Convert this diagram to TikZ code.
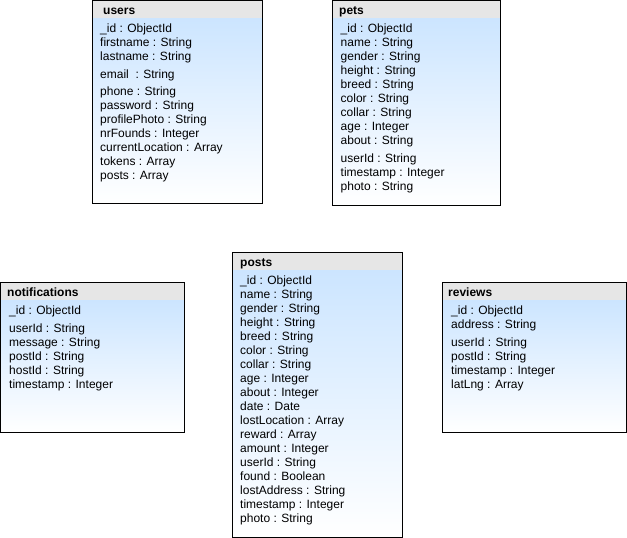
\documentclass[tikz,border=0pt]{standalone}
\usepackage{fontspec}
\setmainfont{Liberation Sans}
\definecolor{hdrgray}{RGB}{230,230,230}
\definecolor{bodyblue}{RGB}{204,229,255}
\begin{document}
\begin{tikzpicture}[x=1pt,y=-1pt,
  tblbox/.style={draw=black,line width=1pt,fill=none,inner sep=0pt,outer sep=0pt,anchor=north west},
  hdrfill/.style={fill=hdrgray},
  bodyshade/.style={top color=bodyblue,bottom color=white},
  ttl/.style={font=\fontsize{12}{14}\selectfont\bfseries,anchor=base west,inner sep=0pt},
  row/.style={font=\fontsize{12}{14}\selectfont,anchor=base west,inner sep=0pt}]
\useasboundingbox (0,0) rectangle (627,538);

% ---------- users
\path[bodyshade] (92.5,18) rectangle (262.5,203.5);
\path[hdrfill] (92.5,0.5) rectangle (262.5,18);
\node[tblbox,minimum width=170pt,minimum height=203pt] (users) at (92.5,0.5) {};
\node[ttl] (usersT) at (103,14.5) {users};
\foreach \y/\t [count=\i] in {32.5/{\_id : ObjectId},46.5/{firstname : String},60.5/{lastname : String},78.5/{email~ : String},95.5/{phone : String},109.5/{password : String},123.5/{profilePhoto : String},137.5/{nrFounds : Integer},151.5/{currentLocation : Array},165.5/{tokens : Array},179.5/{posts : Array}}
  \node[row] (users r\i) at (100,\y) {\t};

% ---------- pets
\path[bodyshade] (332.5,18) rectangle (500.5,205);
\path[hdrfill] (332.5,0.5) rectangle (500.5,18);
\node[tblbox,minimum width=168pt,minimum height=204.5pt] (pets) at (332.5,0.5) {};
\node[ttl] (petsT) at (339,14.5) {pets};
\foreach \y/\t [count=\i] in {32.5/{\_id : ObjectId},46.5/{name : String},60.5/{gender : String},74.5/{height : String},88.5/{breed : String},102.5/{color : String},116.5/{collar : String},130.5/{age : Integer},144.5/{about : String},162.5/{userId : String},176.5/{timestamp : Integer},190.5/{photo : String}}
  \node[row] (pets r\i) at (340.5,\y) {\t};

% ---------- notifications
\path[bodyshade] (0.5,300) rectangle (184.5,432);
\path[hdrfill] (0.5,282) rectangle (184.5,300);
\node[tblbox,minimum width=184pt,minimum height=150pt] (notif) at (0.5,282) {};
\node[ttl] (notifT) at (7,296.5) {notifications};
\foreach \y/\t [count=\i] in {314.5/{\_id : ObjectId},332/{userId : String},346/{message : String},360/{postId : String},374/{hostId : String},388/{timestamp : Integer}}
  \node[row] (notif r\i) at (9,\y) {\t};

% ---------- posts
\path[bodyshade] (232.5,270) rectangle (402.5,537);
\path[hdrfill] (232.5,252) rectangle (402.5,270);
\node[tblbox,minimum width=170pt,minimum height=285pt] (posts) at (232.5,252) {};
\node[ttl] (postsT) at (240,266.5) {posts};
\foreach \t [count=\i] in {{\_id : ObjectId},{name : String},{gender : String},{height : String},{breed : String},{color : String},{collar : String},{age : Integer},{about : Integer},{date : Date},{lostLocation : Array},{reward : Array},{amount : Integer},{userId : String},{found : Boolean},{lostAddress : String},{timestamp : Integer},{photo : String}}
  \node[row] (posts r\i) at (240,{284+14*(\i-1)}) {\t};

% ---------- reviews
\path[bodyshade] (442.5,300) rectangle (626,432);
\path[hdrfill] (442.5,282) rectangle (626,300);
\node[tblbox,minimum width=183.5pt,minimum height=150pt] (reviews) at (442.5,282) {};
\node[ttl] (reviewsT) at (448,296.5) {reviews};
\foreach \y/\t [count=\i] in {314.5/{\_id : ObjectId},328.5/{address : String},346/{userId : String},360/{postId : String},374/{timestamp : Integer},388/{latLng : Array}}
  \node[row] (reviews r\i) at (451,\y) {\t};
\end{tikzpicture}
\end{document}
